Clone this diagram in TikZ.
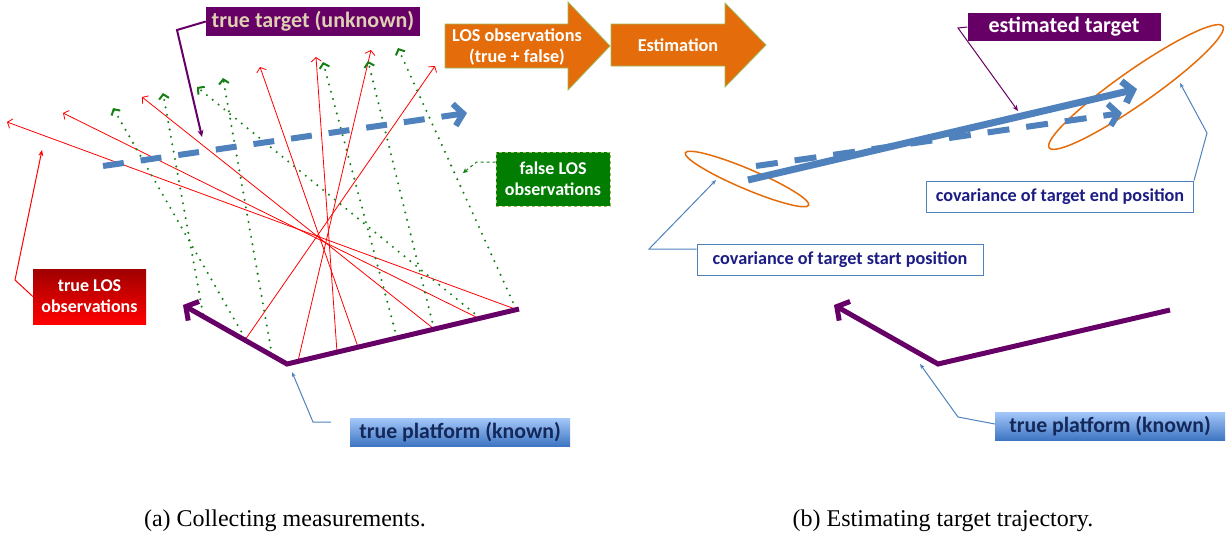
\documentclass[tikz,border=0pt]{standalone}
\usepackage{fontspec}
\setmainfont{Liberation Serif}
\newfontfamily\carl{Carlito}
\usetikzlibrary{arrows.meta}
\definecolor{purp}{HTML}{660066}
\definecolor{tblue}{HTML}{4F81BD}
\definecolor{orng}{HTML}{E46C0A}
\definecolor{lgreen}{HTML}{9BBB59}
\definecolor{dgreen}{HTML}{017E01}
\definecolor{losgreen}{HTML}{168016}
\definecolor{covnavy}{HTML}{1C1C85}
\definecolor{pnavy}{HTML}{14285A}
\definecolor{beige}{HTML}{DED0B2}
\definecolor{pbtop}{HTML}{A4C8FA}
\definecolor{pbbot}{HTML}{3F75C2}
\definecolor{rtop}{HTML}{A00000}
\definecolor{rbot}{HTML}{FF0000}
\tikzset{
  redlos/.style={draw=red, line width=0.8pt, -{Straight Barb[length=4pt,width=10pt]}},
  greenlos/.style={draw=losgreen, line width=2.3pt, line cap=round, dash pattern=on 0pt off 7.5pt,
     -{Straight Barb[length=4.5pt,width=10pt,line width=2pt]}},
  boxfont/.style 2 args={font={\carl\bfseries\fontsize{#1}{#2}\selectfont}},
  callblue/.style={draw=tblue, line width=1pt, -{Stealth[length=5pt,width=4pt]}},
  track/.style={draw=tblue, line width=6pt},
  bigbarb/.style={-{Straight Barb[length=9pt,width=22pt]}},
  orangearrow/.style={fill=orng, draw=lgreen, line width=0.8pt},
}
\begin{document}
\begin{tikzpicture}[x=1pt, y=-1pt]
\useasboundingbox (0,0) rectangle (1227,541);

% ---------- left panel: LOS lines ----------
\draw[redlos] (515,309) -- (7,122);
\draw[redlos] (478,318) -- (63,113);
\draw[redlos] (434,329) -- (142,97);
\draw[redlos] (358,347) -- (260,67);
\draw[redlos] (337,352) -- (316,57);
\draw[redlos] (298,361) -- (371,50);
\draw[redlos] (245,340) -- (435,66);

\draw[greenlos] (245,338) -- (113,108);
\draw[greenlos] (203,314) -- (163,93);
\draw[greenlos] (272,355) -- (223,78);
\draw[greenlos] (397,338) -- (323,62);
\draw[greenlos] (434,329) -- (368,61);
\draw[greenlos] (480,318) -- (197,87);
\draw[greenlos] (516,309) -- (398,48);

% true target (dashed)
\draw[track, dash pattern=on 21pt off 17pt, bigbarb] (103,166) -- (467,113);

% platform
\draw[purp, line width=5pt, bigbarb] (519,309) -- (287,364) -- (183,305);

% labels left
\node[fill=purp, text=beige, minimum width=214pt, minimum height=29pt, inner sep=0pt, boxfont={22}{26}] (tt) at (313,21.5) {true target (unknown)};
\draw[purp, line width=2pt, -{Stealth[length=7pt,width=6pt]}] (tt.west) -- (177,30) -- (202,137);

\node[fill=dgreen, draw=lgreen, dashed, line width=0.8pt, text=white, minimum width=114pt, minimum height=54pt, inner sep=0pt, align=center, boxfont={18}{21}] (flos) at (553,179) {false LOS\\observations};
\draw[losgreen, dashed, line width=1pt, -{Stealth[length=5pt,width=5pt]}] ([yshift=17pt]flos.west) -- ++(-19,0) -- (463,173);

\node[top color=rtop, bottom color=rbot, text=white, minimum width=113pt, minimum height=55pt, inner sep=0pt, align=center, boxfont={18}{21}] (tlos) at (89.5,296.5) {true LOS\\observations};
\draw[red, line width=1pt, -{Stealth[length=6pt,width=5pt]}] (tlos.west) -- (15,280) -- (42,150);

\node[top color=pbtop, bottom color=pbbot, text=pnavy, minimum width=220pt, minimum height=28pt, inner sep=0pt, boxfont={21.8}{25}] (tp1) at (460,432) {true platform (known)};
\draw[callblue] ([xshift=-19pt,yshift=10pt]tp1.west) -- (313,422) -- (292,372);

% ---------- orange process arrows ----------
\draw[orangearrow] (445,24) -- (568,24) -- (568,2) -- (610,46) -- (568,90) -- (568,68) -- (445,68) -- cycle;
\node[text=white, align=center, inner sep=0pt, boxfont={18.2}{21}] (los) at (517,47) {LOS observations\\(true + false)};
\draw[orangearrow] (611,24) -- (725,24) -- (725,3) -- (766,45) -- (725,87) -- (725,66) -- (611,66) -- cycle;
\node[text=white, inner sep=0pt, boxfont={18.2}{21}] (est) at (678,45) {Estimation};

% ---------- right panel ----------
\draw[orng, line width=1.5pt, rotate around={-23:(747,179)}] (747,179) ellipse [x radius=67, y radius=10];
\draw[orng, line width=1.5pt, rotate around={35:(1136,87)}] (1136,87) ellipse [x radius=106, y radius=17];

\draw[track, dash pattern=on 22pt off 17pt, bigbarb] (756,166) -- (1122,113);
\draw[track, line width=7pt, bigbarb] (748,180) -- (1137,89);

\draw[purp, line width=5pt, bigbarb] (1170,310) -- (938,364) -- (834,305);

\node[fill=purp, text=white, minimum width=193pt, minimum height=28pt, inner sep=0pt, boxfont={22}{26}] (et) at (1064,27) {estimated target};
\draw[purp, line width=1pt, -{Stealth[length=6pt,width=5pt]}] (et.west) -- (958,28) -- (1018,111);

\node[draw=tblue, fill=white, line width=1pt, text=covnavy, minimum width=267pt, minimum height=31pt, inner sep=0pt, boxfont={18.2}{21}] (ce) at (1060,196.5) {covariance of target end position};
\draw[callblue] (ce.north east) -- (1207,133) -- (1180,83);

\node[draw=tblue, fill=white, line width=1pt, text=covnavy, minimum width=286pt, minimum height=31pt, inner sep=0pt, boxfont={18.2}{21}] (cs) at (840,259.5) {covariance of target start position};
\draw[callblue] ([yshift=10.5pt]cs.west) -- (649,249) -- (716,180);

\node[top color=pbtop, bottom color=pbbot, text=pnavy, minimum width=230pt, minimum height=28pt, inner sep=0pt, boxfont={21.8}{25}] (tp2) at (1110,426) {true platform (known)};
\draw[callblue] ([yshift=2pt]tp2.west) -- (958,417) -- (920,364);

% ---------- captions ----------
\node[font=\fontsize{24}{28}\selectfont, inner sep=0pt] (capa) at (285,521) {(a) Collecting measurements.};
\node[font=\fontsize{24}{28}\selectfont, inner sep=0pt] (capb) at (943,521) {(b) Estimating target trajectory.};
\end{tikzpicture}
\end{document}
